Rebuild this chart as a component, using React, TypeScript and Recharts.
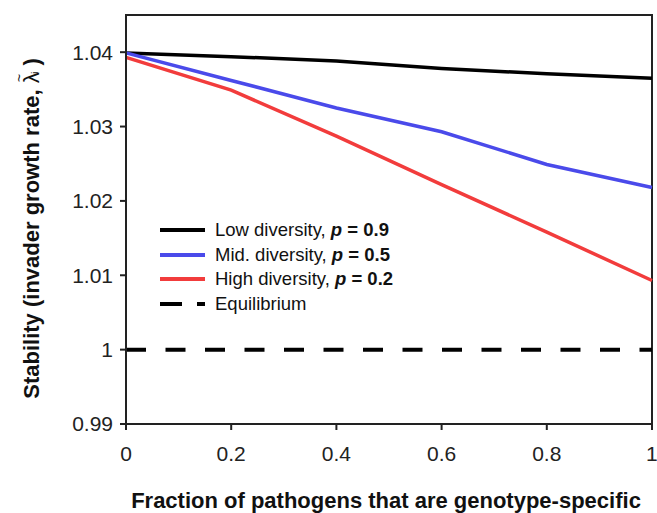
import { LineChart, Line, XAxis, YAxis, Legend, ReferenceArea } from 'recharts';

const fractions = [0, 0.2, 0.4, 0.6, 0.8, 1];
const lowDiversity = [1.0399, 1.0394, 1.0388, 1.0378, 1.0371, 1.0365];
const midDiversity = [1.0399, 1.0362, 1.0325, 1.0293, 1.0249, 1.0218];
const highDiversity = [1.0393, 1.0349, 1.0287, 1.0222, 1.0158, 1.0093];
const equilibrium = [1, 1, 1, 1, 1, 1];

const xTicks = [0, 0.2, 0.4, 0.6, 0.8, 1];
const yTicks = [0.99, 1, 1.01, 1.02, 1.03, 1.04];

const legendItems = [
  { key: 'low', label: 'Low diversity, ', p: '0.9', color: '#000000', dash: undefined },
  { key: 'mid', label: 'Mid. diversity, ', p: '0.5', color: '#4a4aea', dash: undefined },
  { key: 'high', label: 'High diversity, ', p: '0.2', color: '#f23c3c', dash: undefined },
  { key: 'eq', label: 'Equilibrium', p: null, color: '#000000', dash: '22 15' },
];

const data = fractions.map((f, i) => ({
  f,
  low: lowDiversity[i],
  mid: midDiversity[i],
  high: highDiversity[i],
  eq: equilibrium[i],
}));

const FONT = '"Liberation Sans", Arial, sans-serif';
const AXIS = '#222';
const tickStyle = { fontFamily: FONT, fontSize: 21, fill: '#222' };

function LegendBox() {
  return (
    <div style={{ fontFamily: FONT, fontSize: 18.5, color: '#111' }}>
      {legendItems.map(item => (
        <div key={item.key} style={{ display: 'flex', alignItems: 'center', height: 24.5 }}>
          <svg width={45} height={6} style={{ marginRight: 10 }}>
            <line x1={0} y1={3} x2={45} y2={3} stroke={item.color} strokeWidth={4} strokeDasharray={item.dash} />
          </svg>
          <span>
            {item.label}
            {item.p && (
              <b><i>p</i> = {item.p}</b>
            )}
          </span>
        </div>
      ))}
    </div>
  );
}

function YLabel(props: any) {
  const vb = props.viewBox;
  const cx = vb.x + 31;
  const cy = vb.y + vb.height / 2 + 9;
  return (
    <text
      x={cx}
      y={cy}
      transform={`rotate(-90, ${cx}, ${cy})`}
      textAnchor="middle"
      dominantBaseline="central"
      fontFamily={FONT}
      fontSize={22}
      fontWeight="bold"
      fill="#111"
    >
      Stability (invader growth rate,{' '}
      <tspan fontWeight="normal">{'\u03BB'}</tspan>
      <tspan fontWeight="normal" fontSize={14} dx={-9.6} dy={-12}>~</tspan>
      <tspan fontWeight="normal" fontSize={9} dx={0} dy={16}>i</tspan>
      <tspan dy={-4}> )</tspan>
    </text>
  );
}

function XLabel(props: any) {
  const vb = props.viewBox;
  return (
    <text
      x={vb.x + vb.width / 2 - 3}
      y={508}
      textAnchor="middle"
      fontFamily={FONT}
      fontSize={22}
      fontWeight="bold"
      fill="#111"
    >
      Fraction of pathogens that are genotype-specific
    </text>
  );
}

export default function App() {
  return (
    <div style={{ position: 'absolute', left: 0, top: 0, background: '#fff' }}>
      <LineChart width={657} height={513} data={data} margin={{ top: 15, right: 5, left: 0, bottom: 0 }}>
        <XAxis
          dataKey="f"
          type="number"
          domain={[0, 1]}
          ticks={xTicks}
          tickFormatter={(v: number) => String(v)}
          height={89}
          tickSize={6}
          tickMargin={16}
          stroke={AXIS}
          strokeWidth={2}
          tick={tickStyle}
          label={<XLabel />}
        />
        <YAxis
          type="number"
          domain={[0.99, 1.045]}
          ticks={yTicks}
          allowDataOverflow
          tickFormatter={(v: number) => String(v)}
          width={126}
          tickSize={6}
          tickMargin={7}
          stroke={AXIS}
          strokeWidth={2}
          tick={tickStyle}
          label={<YLabel />}
        />
        <ReferenceArea x1={0} x2={1} y1={0.99} y2={1.045} fill="none" stroke={AXIS} strokeWidth={2} ifOverflow="visible" />
        <Line dataKey="eq" stroke="#000" strokeWidth={4} strokeDasharray="20 19.5" dot={false} isAnimationActive={false} />
        <Line dataKey="low" stroke="#000000" strokeWidth={3.5} dot={false} isAnimationActive={false} />
        <Line dataKey="mid" stroke="#4a4aea" strokeWidth={3.5} dot={false} isAnimationActive={false} />
        <Line dataKey="high" stroke="#f23c3c" strokeWidth={3.5} dot={false} isAnimationActive={false} />
        <Legend
          layout="vertical"
          align="center"
          verticalAlign="middle"
          wrapperStyle={{ left: 160, top: 218, width: 340 }}
          content={() => <LegendBox />}
        />
      </LineChart>
    </div>
  );
}
